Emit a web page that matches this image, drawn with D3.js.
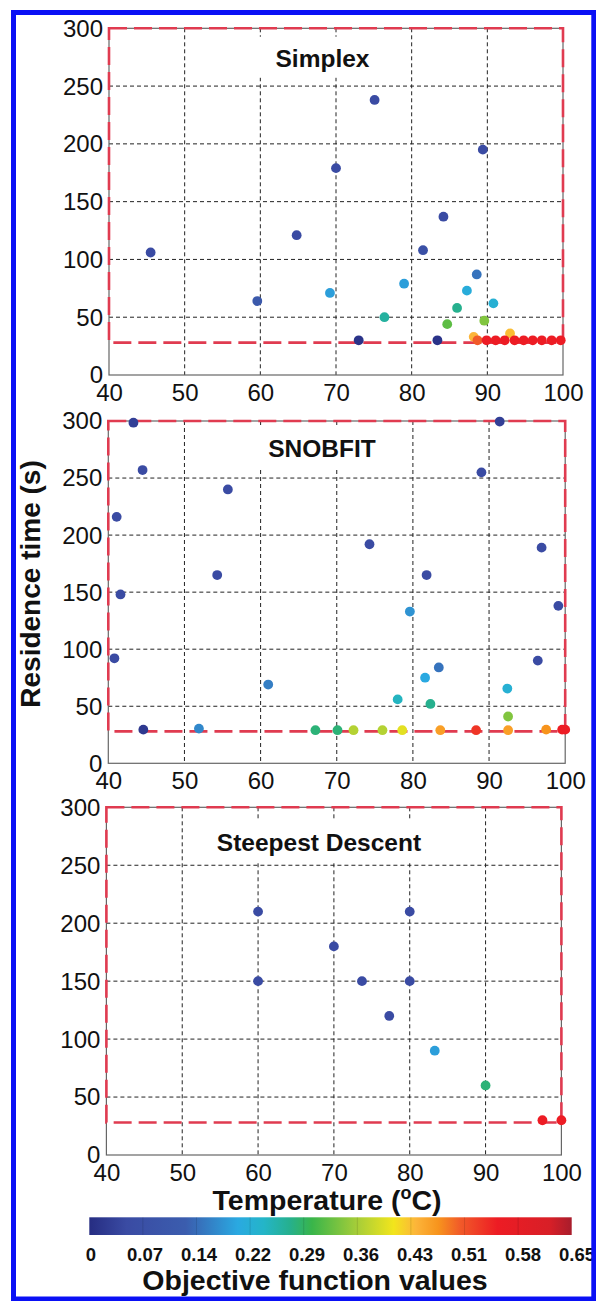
<!DOCTYPE html>
<html><head><meta charset="utf-8">
<script src="https://cdn.jsdelivr.net/npm/d3@7"></script>
<style>html,body{margin:0;padding:0;background:#fff;} svg{display:block;}</style>
</head><body>
<svg id="chart" width="596" height="1301"></svg>
<script>
// ---------- data ----------
const xTicks = [40, 50, 60, 70, 80, 90, 100];
const yTicks = [0, 50, 100, 150, 200, 250, 300];
const constraintT = [40, 100];
const constraintTau = [28, 300];

const simplexT   = [45.5, 59.6, 64.8, 69.2, 70.0, 73.0, 75.1, 76.4, 79.0, 81.5, 83.4, 84.2, 84.7, 86.0, 87.3, 88.2, 88.6, 89.4, 89.6, 90.8, 93.0, 88.7, 89.9, 91.1, 92.3, 93.6, 94.8, 96.0, 97.2, 98.5, 99.7];
const simplexTau = [106, 64, 121, 71, 179, 30, 238, 50, 79, 108, 30, 137, 44, 58, 73, 33, 87, 195, 47, 62, 36, 30, 30, 30, 30, 30, 30, 30, 30, 30, 30];
const simplexObj = [0.05, 0.11, 0.05, 0.19, 0.05, 0.01, 0.05, 0.26, 0.19, 0.07, 0.01, 0.05, 0.32, 0.27, 0.21, 0.44, 0.15, 0.05, 0.34, 0.22, 0.435, 0.50, 0.55, 0.55, 0.55, 0.55, 0.55, 0.55, 0.55, 0.55, 0.55];

const snobfitT   = [43.3, 41.1, 40.8, 41.6, 44.5, 44.6, 51.9, 54.3, 55.7, 61.0, 67.2, 70.1, 72.2, 74.3, 76.0, 78.0, 78.6, 79.6, 81.6, 81.8, 82.3, 83.4, 83.6, 88.3, 89.0, 91.4, 92.4, 92.5, 92.5, 96.4, 96.9, 97.5, 99.1, 99.6, 100];
const snobfitTau = [298.5, 216, 92, 148, 257, 29.5, 30.4, 165, 240, 69, 29, 29, 29, 192, 29, 56, 29, 133, 75, 165, 52, 84, 29, 29, 255, 299.5, 65.5, 41, 29, 90, 189, 29.5, 138, 29.5, 29.5];
const snobfitObj = [0.03, 0.05, 0.05, 0.05, 0.05, 0.02, 0.17, 0.05, 0.05, 0.16, 0.28, 0.28, 0.37, 0.05, 0.37, 0.24, 0.40, 0.18, 0.20, 0.05, 0.27, 0.15, 0.46, 0.53, 0.05, 0.03, 0.22, 0.34, 0.46, 0.05, 0.05, 0.47, 0.05, 0.55, 0.55];

const steepestT   = [60, 60, 70, 73.7, 77.3, 80, 80, 83.3, 90, 97.5, 100];
const steepestTau = [210, 150, 180, 150, 120, 210, 150, 90, 60, 30, 30];
const steepestObj = [0.05, 0.05, 0.05, 0.05, 0.05, 0.05, 0.05, 0.19, 0.28, 0.55, 0.55];

const panelTitles = ["Simplex", "SNOBFIT", "Steepest Descent"];

const cmapValues = [0, 0.05, 0.13, 0.2, 0.235, 0.27, 0.30, 0.36, 0.41, 0.44, 0.47, 0.50, 0.55, 0.62, 0.65];
const cmapColors = ["#262d82", "#3a4ba3", "#3b5dae", "#2aa9e1", "#24b5c8", "#26b08e", "#39b54a", "#a5cd39", "#f2e51c", "#fcb53a", "#f7941d", "#f15a29", "#ed1c24", "#d81f27", "#a81d2c"];

const cbarTickValues = [0, 0.0722, 0.1444, 0.2167, 0.2889, 0.3611, 0.4333, 0.5056, 0.5778, 0.65];
const cbarTickLabels = ["0", "0.07", "0.14", "0.22", "0.29", "0.36", "0.43", "0.51", "0.58", "0.65"];

// ---------- layout ----------
const FONT = "'Liberation Sans', Arial, Helvetica, sans-serif";
const svg = d3.select("#chart");
const color = d3.scaleLinear().domain(cmapValues).range(cmapColors).clamp(true);

const panels = [
  {T: simplexT, tau: simplexTau, obj: simplexObj, l: 109, r: 563, t: 28.3, b: 375, tx: 322.5, ty: 66.7},
  {T: snobfitT, tau: snobfitTau, obj: snobfitObj, l: 108.3, r: 565.2, t: 421, b: 763.3, tx: 322, ty: 456.7},
  {T: steepestT, tau: steepestTau, obj: steepestObj, l: 106.4, r: 561.4, t: 807.3, b: 1155, tx: 319, ty: 850.7}
];

const red = "#e03b50";

panels.forEach((p, i) => {
  const x = d3.scaleLinear().domain([40, 100]).range([p.l, p.r]);
  const y = d3.scaleLinear().domain([0, 300]).range([p.b, p.t]);
  const g = svg.append("g");

  // grid
  g.append("g").selectAll("line").data(xTicks.slice(1, -1)).join("line")
    .attr("x1", d => x(d)).attr("x2", d => x(d)).attr("y1", p.t).attr("y2", p.b)
    .attr("stroke", "#222").attr("stroke-width", 1).attr("stroke-dasharray", "4,3");
  g.append("g").selectAll("line").data(yTicks.slice(1, -1)).join("line")
    .attr("x1", p.l).attr("x2", p.r).attr("y1", d => y(d)).attr("y2", d => y(d))
    .attr("stroke", "#222").attr("stroke-width", 1).attr("stroke-dasharray", "4,3");

  // title with white background box
  const tb = g.append("rect").attr("fill", "#fff");
  const tt = g.append("text").attr("x", p.tx).attr("y", p.ty)
    .attr("text-anchor", "middle").attr("font-family", FONT).attr("font-weight", "bold")
    .attr("font-size", 24.5).attr("fill", "#111").text(panelTitles[i]);
  const bb = tt.node().getBBox();
  tb.attr("x", bb.x - 18).attr("width", bb.width + 36)
    .attr("y", bb.y - 8).attr("height", (p.ty + 11) - (bb.y - 8));

  // axis frame
  g.append("rect").attr("x", p.l).attr("y", p.t).attr("width", p.r - p.l).attr("height", p.b - p.t)
    .attr("fill", "none").attr("stroke", "#666").attr("stroke-width", 1.2);

  // constraint rectangle (red dashed)
  g.append("rect")
    .attr("x", x(constraintT[0])).attr("y", y(constraintTau[1]))
    .attr("width", x(constraintT[1]) - x(constraintT[0]))
    .attr("height", y(constraintTau[0]) - y(constraintTau[1]))
    .attr("fill", "none").attr("stroke", red).attr("stroke-width", 2.6)
    .attr("stroke-dasharray", "18,7");

  // tick labels
  const yAxis = d3.axisLeft(y).tickValues(yTicks).tickSize(0).tickPadding(6);
  const ya = g.append("g").attr("transform", `translate(${p.l},0)`).call(yAxis);
  ya.select(".domain").remove();
  ya.selectAll("text").attr("font-family", FONT).attr("font-size", 24).attr("fill", "#111")
    .attr("dy", "0.33em");

  const xAxis = d3.axisBottom(x).tickValues(xTicks).tickSize(0).tickPadding(0);
  const xa = g.append("g").attr("transform", `translate(0,${p.b})`).call(xAxis);
  xa.select(".domain").remove();
  xa.selectAll("text").attr("font-family", FONT).attr("font-size", 24).attr("fill", "#111")
    .attr("dy", null).attr("y", 25.5);

  // dots
  const pts = p.T.map((t, k) => ({t, tau: p.tau[k], o: p.obj[k]}));
  g.append("g").selectAll("circle").data(pts).join("circle")
    .attr("cx", d => x(d.t)).attr("cy", d => y(d.tau)).attr("r", 4.9)
    .attr("fill", d => color(d.o));
});

// axis titles
svg.append("text").attr("transform", "translate(40,584) rotate(-90)")
  .attr("text-anchor", "middle").attr("font-family", FONT).attr("font-weight", "bold")
  .attr("font-size", 28).attr("fill", "#111").text("Residence time (s)");

const xl = svg.append("text").attr("x", 327).attr("y", 1210)
  .attr("text-anchor", "middle").attr("font-family", FONT).attr("font-weight", "bold")
  .attr("font-size", 28.5).attr("fill", "#111");
xl.append("tspan").text("Temperature (");
xl.append("tspan").attr("font-size", 18).attr("dy", -11).text("o");
xl.append("tspan").attr("dy", 11).text("C)");

// colorbar
const cb = {l: 89.3, r: 571.7, t: 1217.3, b: 1235};
const cbx = d3.scaleLinear().domain([0, 0.65]).range([cb.l, cb.r]);
const grad = svg.append("defs").append("linearGradient").attr("id", "cbgrad")
  .attr("x1", "0%").attr("x2", "100%").attr("y1", "0%").attr("y2", "0%");
cmapValues.forEach((v, k) => {
  grad.append("stop").attr("offset", (v / 0.65 * 100) + "%").attr("stop-color", cmapColors[k]);
});
svg.append("rect").attr("x", cb.l).attr("y", cb.t).attr("width", cb.r - cb.l).attr("height", cb.b - cb.t)
  .attr("fill", "url(#cbgrad)");
svg.append("g").selectAll("line").data(cbarTickValues.slice(1, -1)).join("line")
  .attr("x1", d => cbx(d)).attr("x2", d => cbx(d)).attr("y1", cb.t).attr("y2", cb.b)
  .attr("stroke", "rgba(0,0,0,0.12)").attr("stroke-width", 1);

const cbLabelX = d3.scaleLinear().domain([0, 0.65]).range([91, 577]);
svg.append("g").selectAll("text").data(cbarTickValues).join("text")
  .attr("x", d => cbLabelX(d)).attr("y", 1260.7).attr("text-anchor", "middle")
  .attr("font-family", FONT).attr("font-weight", "bold").attr("font-size", 18.5).attr("fill", "#111")
  .text((d, k) => cbarTickLabels[k]);

svg.append("text").attr("x", 315).attr("y", 1290).attr("text-anchor", "middle")
  .attr("font-family", FONT).attr("font-weight", "bold").attr("font-size", 28.5).attr("fill", "#111")
  .text("Objective function values");

// outer blue border
svg.append("rect").attr("x", 13.5).attr("y", 12.5).attr("width", 580.3).attr("height", 1286.5)
  .attr("fill", "none").attr("stroke", "#0a10f5").attr("stroke-width", 5);
</script>
</body></html>
